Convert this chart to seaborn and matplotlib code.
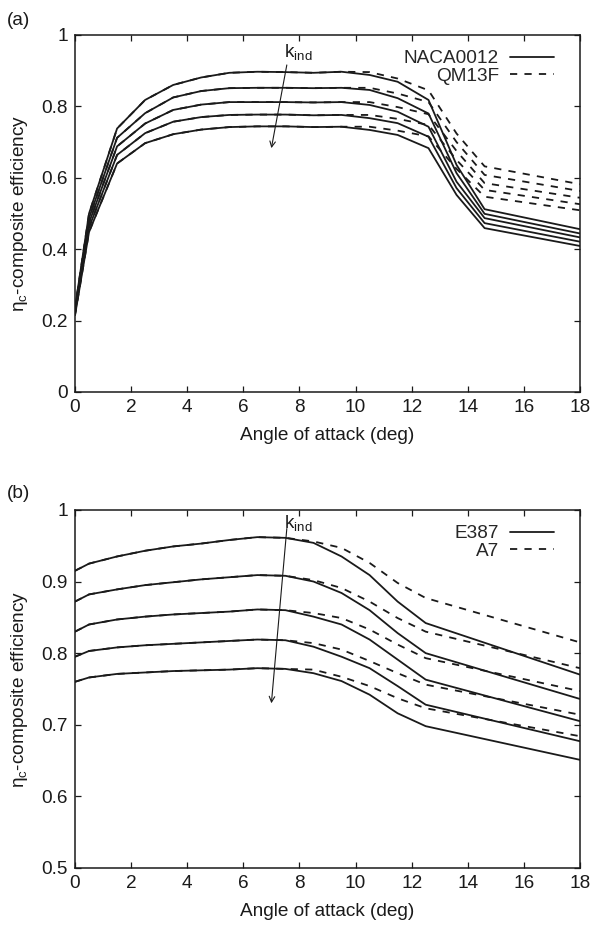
import numpy as np
import pandas as pd
import seaborn as sns
import matplotlib
matplotlib.use('Agg')
import matplotlib.pyplot as plt
from matplotlib.lines import Line2D
from matplotlib.ticker import FuncFormatter

# ---- data ----
# panel (a): NACA0012 (solid) vs QM13F (dashed), 5 k_ind levels each
angle_a = [0, 0.5, 1.5, 2.5, 3.5, 4.5, 5.5, 6.5, 7.5, 8.5, 9.5, 10.5, 11.5, 12.6, 13.6, 14.6, 18]
naca0012 = [
    [0.235, 0.500, 0.738, 0.818, 0.860, 0.881, 0.894, 0.897, 0.896, 0.894, 0.897, 0.888, 0.869, 0.818, 0.636, 0.512, 0.456],
    [0.230, 0.487, 0.712, 0.781, 0.825, 0.843, 0.851, 0.852, 0.852, 0.851, 0.852, 0.846, 0.823, 0.780, 0.613, 0.499, 0.444],
    [0.225, 0.474, 0.688, 0.752, 0.790, 0.805, 0.812, 0.812, 0.812, 0.811, 0.812, 0.804, 0.785, 0.743, 0.589, 0.487, 0.433],
    [0.220, 0.461, 0.664, 0.725, 0.757, 0.770, 0.776, 0.777, 0.777, 0.775, 0.776, 0.767, 0.753, 0.715, 0.571, 0.473, 0.421],
    [0.215, 0.448, 0.640, 0.697, 0.722, 0.735, 0.742, 0.744, 0.744, 0.742, 0.743, 0.734, 0.720, 0.683, 0.552, 0.459, 0.409],
]
qm13f = [
    [0.235, 0.500, 0.738, 0.818, 0.860, 0.881, 0.894, 0.897, 0.896, 0.894, 0.897, 0.896, 0.878, 0.845, 0.724, 0.632, 0.582],
    [0.230, 0.487, 0.712, 0.781, 0.825, 0.843, 0.851, 0.852, 0.852, 0.851, 0.852, 0.852, 0.836, 0.812, 0.700, 0.608, 0.563],
    [0.225, 0.474, 0.688, 0.752, 0.790, 0.805, 0.812, 0.812, 0.812, 0.811, 0.812, 0.812, 0.798, 0.778, 0.675, 0.585, 0.544],
    [0.220, 0.461, 0.664, 0.725, 0.757, 0.770, 0.776, 0.777, 0.777, 0.775, 0.776, 0.776, 0.765, 0.748, 0.650, 0.566, 0.526],
    [0.215, 0.448, 0.640, 0.697, 0.722, 0.735, 0.742, 0.744, 0.744, 0.742, 0.743, 0.743, 0.732, 0.716, 0.625, 0.547, 0.509],
]

# panel (b): E387 (solid) vs A7 (dashed)
angle_b = [0, 0.5, 1.5, 2.5, 3.5, 4.5, 5.5, 6.5, 7.5, 8.5, 9.5, 10.5, 11.5, 12.5, 18]
e387 = [
    [0.915, 0.925, 0.935, 0.943, 0.949, 0.953, 0.958, 0.962, 0.961, 0.954, 0.935, 0.909, 0.872, 0.842, 0.770],
    [0.872, 0.882, 0.889, 0.895, 0.899, 0.903, 0.906, 0.909, 0.908, 0.900, 0.884, 0.860, 0.828, 0.800, 0.736],
    [0.830, 0.840, 0.847, 0.851, 0.854, 0.856, 0.858, 0.861, 0.860, 0.851, 0.840, 0.819, 0.791, 0.763, 0.705],
    [0.795, 0.803, 0.808, 0.811, 0.813, 0.815, 0.817, 0.819, 0.818, 0.809, 0.795, 0.779, 0.754, 0.728, 0.677],
    [0.760, 0.766, 0.771, 0.773, 0.775, 0.776, 0.777, 0.779, 0.778, 0.772, 0.761, 0.742, 0.716, 0.698, 0.651],
]
a7 = [
    [0.915, 0.925, 0.935, 0.943, 0.949, 0.953, 0.958, 0.962, 0.961, 0.956, 0.947, 0.926, 0.898, 0.877, 0.815],
    [0.872, 0.882, 0.889, 0.895, 0.899, 0.903, 0.906, 0.909, 0.908, 0.902, 0.891, 0.872, 0.849, 0.830, 0.779],
    [0.830, 0.840, 0.847, 0.851, 0.854, 0.856, 0.858, 0.861, 0.860, 0.856, 0.849, 0.833, 0.812, 0.793, 0.747],
    [0.795, 0.803, 0.808, 0.811, 0.813, 0.815, 0.817, 0.819, 0.818, 0.814, 0.805, 0.789, 0.772, 0.756, 0.714],
    [0.760, 0.766, 0.771, 0.773, 0.775, 0.776, 0.777, 0.779, 0.778, 0.777, 0.767, 0.754, 0.737, 0.723, 0.684],
]

ticks_a = [0, 0.2, 0.4, 0.6, 0.8, 1]
ticks_b = [0.5, 0.6, 0.7, 0.8, 0.9, 1]
xticks = list(range(0, 19, 2))


def long_form(angle, curves, name):
    rows = []
    for k, c in enumerate(curves):
        for a, v in zip(angle, c):
            rows.append((a, v, k, name))
    return pd.DataFrame(rows, columns=['angle', 'eta', 'k', 'airfoil'])


sns.set_style('ticks')
plt.rcParams['font.family'] = ['Liberation Sans', 'DejaVu Sans']
plt.rcParams['mathtext.fontset'] = 'custom'
plt.rcParams['mathtext.rm'] = 'Liberation Sans'
plt.rcParams['mathtext.it'] = 'Liberation Sans'
ink = '#1a1a1a'
fs = 13.7

fig = plt.figure(figsize=(5.92, 9.30), dpi=100)
ax_a = fig.add_axes([0.1267, 0.5785, 0.853, 0.3839])
ax_b = fig.add_axes([0.1267, 0.0667, 0.853, 0.385])

panels = [
    (ax_a, angle_a, naca0012, qm13f, 'NACA0012', 'QM13F', (0, 1), ticks_a,
     (7.55, 0.916), (7.0, 0.683), (7.45, 0.952)),
    (ax_b, angle_b, e387, a7, 'E387', 'A7', (0.5, 1), ticks_b,
     (7.55, 0.974), (7.0, 0.730), (7.45, 0.982)),
]

for ax, angle, solid, dashed, n1, n2, ylim, yt, a0, a1, kpos in panels:
    df = pd.concat([long_form(angle, solid, n1), long_form(angle, dashed, n2)])
    sns.lineplot(data=df, x='angle', y='eta', units='k', estimator=None,
                 style='airfoil', dashes={n1: '', n2: (4, 4)},
                 color=ink, lw=1.3, legend=False, ax=ax)
    ax.set_xlim(0, 18)
    ax.set_ylim(*ylim)
    ax.set_xticks(xticks)
    ax.set_yticks(yt)
    ax.yaxis.set_major_formatter(FuncFormatter(lambda v, p: '%g' % v))
    ax.tick_params(direction='in', length=4, width=0.9, top=True, right=True,
                   labelsize=fs, colors=ink, pad=5)
    for s in ax.spines.values():
        s.set_linewidth(1.1)
        s.set_color(ink)
    ax.set_xlabel('Angle of attack (deg)', fontsize=fs, color=ink, labelpad=8)
    ax.set_ylabel(r'$\mathregular{\eta_c}$-composite efficiency', fontsize=fs,
                  color=ink, labelpad=8)
    ax.annotate('', xy=a1, xytext=a0,
                arrowprops=dict(arrowstyle='->', lw=0.8, color=ink,
                                shrinkA=0, shrinkB=0))
    ax.text(kpos[0], kpos[1], r'k$_\mathregular{ind}$', fontsize=fs, color=ink,
            va='center', ha='left')
    handles = [Line2D([], [], color=ink, lw=1.3, label=n1),
               Line2D([], [], color=ink, lw=1.3, ls=(0, (4, 4)), label=n2)]
    ax.legend(handles=handles, loc='upper right', bbox_to_anchor=(0.975, 0.995),
              frameon=False, markerfirst=False, fontsize=fs, handlelength=2.3,
              labelspacing=0.02, handletextpad=0.6, borderpad=0.2)

fig.text(0.012, 0.978, '(a)', fontsize=fs, color=ink, va='center')
fig.text(0.012, 0.469, '(b)', fontsize=fs, color=ink, va='center')

fig.savefig('out.png', dpi=100)
